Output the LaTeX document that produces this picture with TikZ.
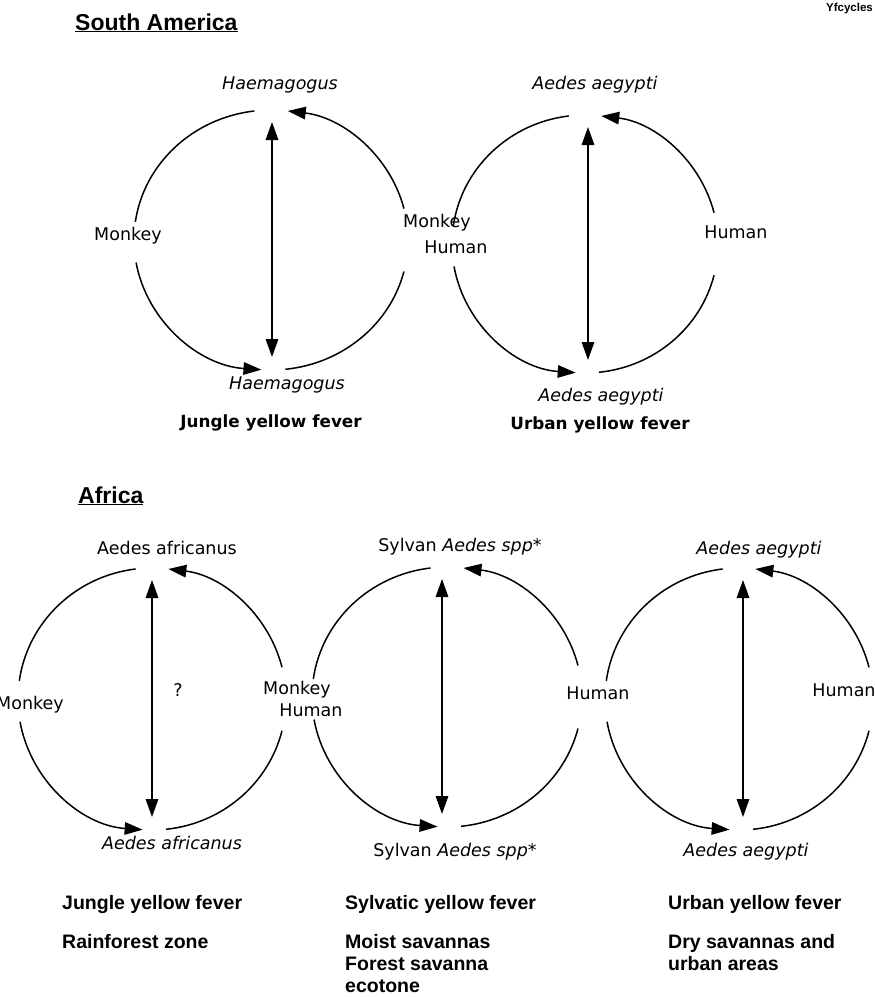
\documentclass[tikz,border=0pt]{standalone}
\usepackage{fontspec}
\setmainfont{DejaVu Sans}[ItalicFont={DejaVu Sans Oblique},BoldFont={DejaVu Sans Bold}]
\newfontfamily\arfont{Liberation Sans}
\usetikzlibrary{arrows.meta,calc}

\tikzset{
  arcline/.style={line width=1.5pt},
  arctip/.style={arcline,-{Triangle[length=18pt,width=12.5pt]}},
  dblarrow/.style={line width=1.6pt,{Triangle[length=18pt,width=12.5pt]}-{Triangle[length=18pt,width=12.5pt]}},
  lbl/.style={inner sep=0pt,font=\fontsize{17.5}{20}\selectfont},
  ital/.style={inner sep=0pt,font=\fontsize{17.5}{20}\selectfont\itshape},
  fever/.style={inner sep=0pt,font=\fontsize{16.8}{20}\selectfont\bfseries},
  title/.style={inner sep=0pt,anchor=base west,font=\arfont\fontsize{23}{26}\selectfont\bfseries},
  zone/.style={inner sep=0pt,anchor=north west,align=left,font=\arfont\fontsize{19.5}{22}\selectfont\bfseries},
  tag/.style={inner sep=0pt,anchor=base east,font=\arfont\fontsize{11.5}{12}\selectfont\bfseries}
}

% cycle: name, cx, cy, rx, ry, arrow x
\newcommand{\ycyc}[6]{%
  \coordinate (#1c) at (#2,#3);
  \coordinate (#1top) at (#6,#3+#5-12);
  \coordinate (#1bot) at (#6,#3-#5+13);
  \draw[dblarrow] (#1top) -- (#1bot);
  \draw[arcline] ($(#1c)+(276:#4 and #5)$) arc[start angle=276,end angle=346,x radius=#4,y radius=#5];
  \draw[arctip]  ($(#1c)+(14:#4 and #5)$)  arc[start angle=14,end angle=83,x radius=#4,y radius=#5];
  \draw[arcline] ($(#1c)+(97:#4 and #5)$)  arc[start angle=97,end angle=172,x radius=#4,y radius=#5];
  \draw[arctip]  ($(#1c)+(190:#4 and #5)$) arc[start angle=190,end angle=266,x radius=#4,y radius=#5];
}

\begin{document}
\begin{tikzpicture}[x=1pt,y=1pt]
\clip (0,0) rectangle (875,-997);
\fill[white] (0,0) rectangle (875,-997);

% titles
\node[title] (tsa) at (75,-30) {\underline{South America}};
\node[tag] (tag) at (873,-11) {Yfcycles};
\node[title] (taf) at (78,-503) {\underline{Africa}};

% South America
\ycyc{sa1}{271}{-240}{137}{130}{272}
\ycyc{sa2}{585}{-244}{133}{129}{588}

\node[ital] (sa1t) at (280,-85) {Haemagogus};
\node[ital] (sa1b) at (287,-385) {Haemagogus};
\node[lbl] (sa1l) at (128,-236) {Monkey};
\node[fever] (sa1f) at (271,-423) {Jungle yellow fever};
\node[lbl] (sam) at (437,-223) {Monkey};
\node[lbl] (sah) at (456,-247) {Human};
\node[ital] (sa2t) at (595,-85) {Aedes aegypti};
\node[ital] (sa2b) at (601,-397) {Aedes aegypti};
\node[lbl] (sa2r) at (736,-232) {Human};
\node[fever] (sa2f) at (600,-425) {Urban yellow fever};

% Africa
\ycyc{af1}{152}{-699}{134}{131}{152}
\ycyc{af2}{447}{-697}{135}{130}{442}
\ycyc{af3}{739}{-699}{134}{131}{743}

\node[lbl] (af1t) at (167,-548) {Aedes africanus};
\node[ital] (af1b) at (172,-843) {Aedes africanus};
\node[lbl] (af1q) at (178,-690) {?};
\node[lbl] (af1l) at (30,-705) {Monkey};
\node[lbl] (afm) at (297,-690) {Monkey};
\node[lbl] (afh) at (311,-710) {Human};
\node[lbl] (af2t) at (460,-547) {Sylvan \textit{Aedes spp*}};
\node[lbl] (af2b) at (455,-852) {Sylvan \textit{Aedes spp*}};
\node[lbl] (af2r) at (598,-693) {Human};
\node[ital] (af3t) at (759,-550) {Aedes aegypti};
\node[ital] (af3b) at (746,-852) {Aedes aegypti};
\node[lbl] (af3r) at (844,-690) {Human};

\node[zone] (z1a) at (62,-895) {Jungle yellow fever};
\node[zone] (z1b) at (62,-934) {Rainforest zone};
\node[zone] (z2a) at (345,-895) {Sylvatic yellow fever};
\node[zone] (z2b) at (345,-934) {Moist savannas\\Forest savanna\\ecotone};
\node[zone] (z3a) at (668,-895) {Urban yellow fever};
\node[zone] (z3b) at (668,-934) {Dry savannas and\\urban areas};
\end{tikzpicture}
\end{document}
